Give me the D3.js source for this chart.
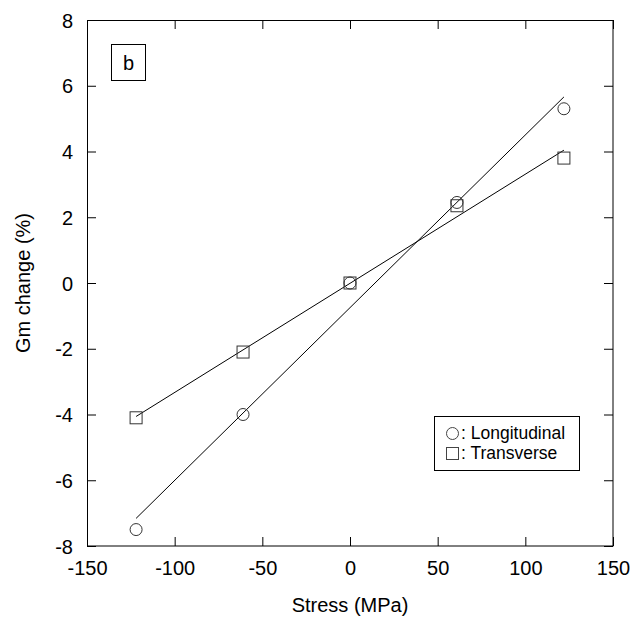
<!DOCTYPE html>
<html>
<head>
<meta charset="utf-8">
<script src="https://cdn.jsdelivr.net/npm/d3@7"></script>
<style>
  body { margin: 0; background: #fff; }
  text { font-family: "Liberation Sans", Arial, sans-serif; fill: #000; }
</style>
</head>
<body>
<div id="chart"></div>
<script>
// data
const stress = [-122, -61, 0, 61, 122];
const longitudinal = [-7.5, -4.0, 0, 2.45, 5.3];
const transverse = [-4.1, -2.1, 0, 2.35, 3.8];
const xTicks = [-150, -100, -50, 0, 50, 100, 150];
const yTicks = [-8, -6, -4, -2, 0, 2, 4, 6, 8];

const W = 632, H = 621;
const margin = {top: 20, right: 19, bottom: 75, left: 87};
const width = W - margin.left - margin.right;
const height = H - margin.top - margin.bottom;

const svg = d3.select("#chart").append("svg")
    .attr("width", W).attr("height", H);
const g = svg.append("g")
    .attr("transform", "translate(" + margin.left + "," + margin.top + ")");

const x = d3.scaleLinear().domain([-150, 150]).range([0, width]);
const y = d3.scaleLinear().domain([-8, 8]).range([height, 0]);

// plain hyphen minus, like the original
const fmt = d => String(d);

// ticks inward on all four sides
const tl = 9;
g.append("g").call(d3.axisBottom(x).tickValues(xTicks).tickSizeInner(-tl).tickSizeOuter(0).tickFormat(fmt))
    .attr("transform", "translate(0," + height + ")")
    .call(a => { a.select(".domain").remove(); a.selectAll(".tick text").attr("dy", null).attr("y", 29).style("font-size", "20px").style("font-family", "Liberation Sans, Arial"); });
g.append("g").call(d3.axisTop(x).tickValues(xTicks).tickSizeInner(-tl).tickSizeOuter(0).tickFormat(""))
    .call(a => a.select(".domain").remove());
g.append("g").call(d3.axisLeft(y).tickValues(yTicks).tickSizeInner(-tl).tickSizeOuter(0).tickFormat(fmt))
    .call(a => { a.select(".domain").remove(); a.selectAll(".tick text").attr("x", -14).attr("dy", "0.36em").style("font-size", "20px").style("font-family", "Liberation Sans, Arial"); });
g.append("g").call(d3.axisRight(y).tickValues(yTicks).tickSizeInner(-tl).tickSizeOuter(0).tickFormat(""))
    .attr("transform", "translate(" + width + ",0)")
    .call(a => a.select(".domain").remove());
g.selectAll(".tick line").attr("stroke", "#000");

// frame
g.append("rect").attr("x", 0.5).attr("y", 0.5).attr("width", width - 0.5).attr("height", height - 0.5)
    .attr("fill", "none").attr("stroke", "#000").attr("stroke-width", 1);

// least-squares fit lines
function fit(xs, ys) {
  const mx = d3.mean(xs), my = d3.mean(ys);
  let sxy = 0, sxx = 0;
  xs.forEach((v, i) => { sxy += (v - mx) * (ys[i] - my); sxx += (v - mx) * (v - mx); });
  const b = sxy / sxx, a = my - b * mx;
  const ext = d3.extent(xs);
  return ext.map(v => [v, a + b * v]);
}
const line = d3.line().x(d => x(d[0])).y(d => y(d[1]));
[longitudinal, transverse].forEach(s => {
  g.append("path").attr("d", line(fit(stress, s)))
      .attr("fill", "none").attr("stroke", "#000").attr("stroke-width", 1);
});

// markers
g.selectAll(".circ").data(stress).enter().append("circle")
    .attr("cx", d => x(d)).attr("cy", (d, i) => y(longitudinal[i])).attr("r", 6)
    .attr("fill", "none").attr("stroke", "#333").attr("stroke-width", 1);
g.selectAll(".sq").data(stress).enter().append("rect")
    .attr("x", d => x(d) - 6).attr("y", (d, i) => y(transverse[i]) - 6)
    .attr("width", 12).attr("height", 12)
    .attr("fill", "none").attr("stroke", "#333").attr("stroke-width", 1);

// panel label
svg.append("rect").attr("x", 111.5).attr("y", 44.5).attr("width", 34).attr("height", 36)
    .attr("fill", "#fff").attr("stroke", "#000");
svg.append("text").attr("x", 128.5).attr("y", 70).attr("text-anchor", "middle")
    .style("font-size", "20px").text("b");

// legend
svg.append("rect").attr("x", 434.5).attr("y", 416.5).attr("width", 145).attr("height", 54)
    .attr("fill", "#fff").attr("stroke", "#000");
svg.append("circle").attr("cx", 452.5).attr("cy", 433.5).attr("r", 6)
    .attr("fill", "none").attr("stroke", "#444");
svg.append("rect").attr("x", 446.5).attr("y", 447.5).attr("width", 12).attr("height", 12)
    .attr("fill", "none").attr("stroke", "#444");
svg.append("text").attr("x", 461).attr("y", 439).style("font-size", "17.5px").text(": Longitudinal");
svg.append("text").attr("x", 461).attr("y", 459).style("font-size", "17.5px").text(": Transverse");

// axis titles
svg.append("text").attr("x", margin.left + width / 2).attr("y", 612).attr("text-anchor", "middle")
    .style("font-size", "20px").text("Stress (MPa)");
svg.append("text").attr("transform", "translate(30," + (margin.top + height / 2) + ") rotate(-90)")
    .attr("text-anchor", "middle").style("font-size", "20px").text("Gm change (%)");
</script>
</body>
</html>
